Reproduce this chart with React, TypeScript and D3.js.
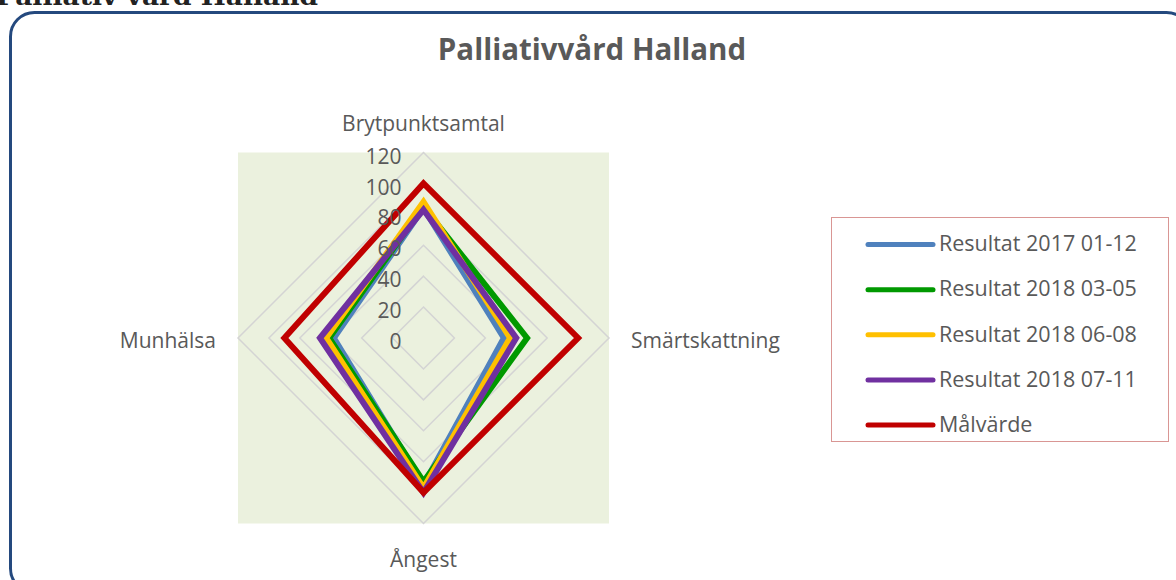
import React from "react";
import * as d3 from "d3";

const categories = ["Brytpunktsamtal", "Smärtskattning", "Ångest", "Munhälsa"];
const seriesNames = ["Resultat 2017 01-12", "Resultat 2018 03-05", "Resultat 2018 06-08", "Resultat 2018 07-11", "Målvärde"];
const res2017 = [84, 52, 95, 58];
const res2018a = [85, 67, 93, 61];
const res2018b = [88, 56, 97, 63];
const res2018c = [83, 60, 100, 67];
const malvarde = [100, 100, 100, 90];
const tickValues = [0, 20, 40, 60, 80, 100, 120];
const colors = ["#4F81BD", "#009900", "#FFC000", "#7030A0", "#C00000"];

const seriesValues = [res2017, res2018a, res2018b, res2018c, malvarde];

export default function App() {
  const W = 1176, H = 580;
  const cx = 423.5, cy = 338, R = 185.5;
  const r = d3.scaleLinear().domain([0, 120]).range([0, R]);
  const angle = d3.scaleLinear().domain([0, categories.length]).range([0, 2 * Math.PI]);
  const line = d3.lineRadial<number>()
    .angle((_, i) => angle(i))
    .radius((d) => r(d))
    .curve(d3.curveLinearClosed);
  const font = "'Open Sans', sans-serif";
  const textColor = "#595959";

  const legendX = 831, legendY = 217, legendW = 337, legendH = 224;
  const rowY = d3.scaleLinear().domain([0, 4]).range([244.5, 425]);

  return (
    <svg width={W} height={H} style={{ position: "absolute", left: 0, top: 0 }}>
      <rect x={0} y={0} width={W} height={H} fill="#ffffff" />
      <text x={-4} y={5} fontFamily="'DejaVu Serif', serif" fontWeight="bold" fontSize={24}
        fill="#222222" textLength={322} lengthAdjust="spacingAndGlyphs">Palliativ vård Halland</text>
      <rect x={10.5} y={12.5} width={1180} height={580} rx={24} ry={24}
        fill="#ffffff" stroke="#24497E" strokeWidth={3} />
      <text x={592} y={60} textAnchor="middle" fontFamily={font} fontWeight="bold"
        fontSize={29.5} fill={textColor}>Palliativvård Halland</text>

      <rect x={cx - R} y={cy - R} width={2 * R} height={2 * R} fill="#EBF1DE" />

      <g transform={`translate(${cx},${cy})`}>
        {tickValues.filter((t) => t > 0).map((t) => (
          <path key={t} d={line(categories.map(() => t)) || ""} fill="none"
            stroke="#D4D4D4" strokeWidth={1.5} />
        ))}
        {seriesValues.map((vals, i) => (
          <path key={i} d={line(vals) || ""} fill="none" stroke={colors[i]}
            strokeWidth={6} strokeLinejoin="miter" />
        ))}
        {tickValues.map((t) => (
          <text key={t} x={-22} y={-r(t) + 5.5} textAnchor="end" dominantBaseline="middle"
            fontFamily={font} fontSize={21} fill={textColor}>{t}</text>
        ))}
      </g>

      <text x={cx} y={131} textAnchor="middle" fontFamily={font} fontSize={21} fill={textColor}>{categories[0]}</text>
      <text x={631} y={348} textAnchor="start" fontFamily={font} fontSize={21} fill={textColor}>{categories[1]}</text>
      <text x={cx} y={567} textAnchor="middle" fontFamily={font} fontSize={21} fill={textColor}>{categories[2]}</text>
      <text x={216} y={348} textAnchor="end" fontFamily={font} fontSize={21} fill={textColor}>{categories[3]}</text>

      <rect x={legendX + 0.5} y={legendY + 0.5} width={legendW} height={legendH} fill="#ffffff"
        stroke="#D99694" strokeWidth={1} />
      {seriesNames.map((name, i) => (
        <g key={name}>
          <line x1={868} x2={933} y1={rowY(i)} y2={rowY(i)} stroke={colors[i]} strokeWidth={5}
            strokeLinecap="round" />
          <text x={939} y={rowY(i) + 1} dominantBaseline="middle" fontFamily={font} fontSize={21.5}
            fill={textColor}>{name}</text>
        </g>
      ))}
    </svg>
  );
}
